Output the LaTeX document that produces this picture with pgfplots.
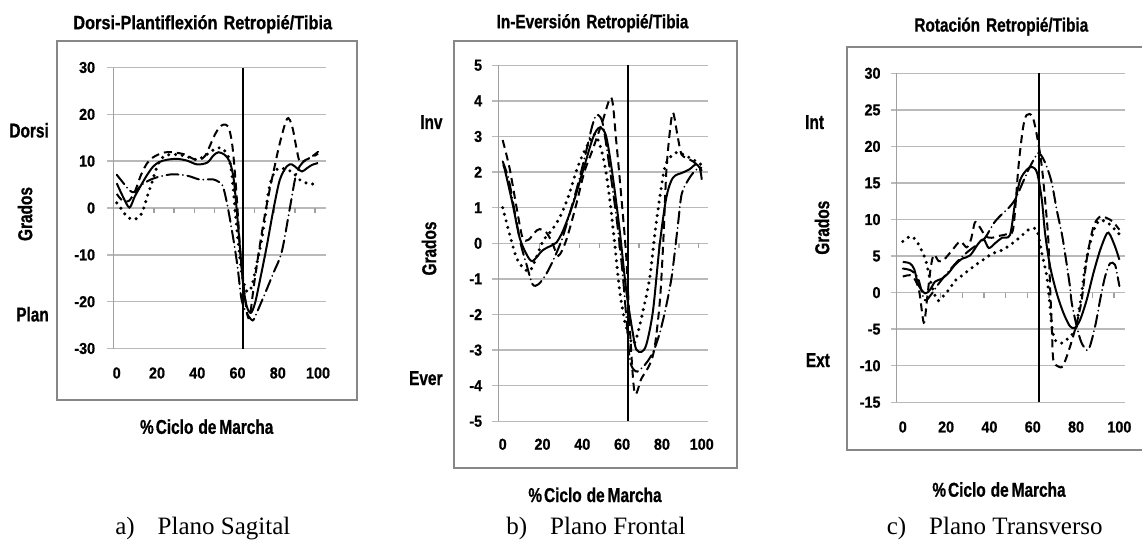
\documentclass[border=0pt]{standalone}
\usepackage{pgfplots}
\pgfplotsset{compat=1.18}
\usepackage{fontspec}
\setmainfont{Liberation Serif}
\newfontfamily\titlefontA{Liberation Sans}[FakeStretch=0.85,FakeBold=0.8]
\newfontfamily\titlefontB{Liberation Sans}[FakeStretch=0.80,FakeBold=0.8]
\newfontfamily\labfont{Liberation Sans}[FakeStretch=0.77,FakeBold=0.8]
\newfontfamily\tickfontfam{Liberation Sans}[FakeStretch=0.91,FakeBold=0.8]
\newcommand{\tickfont}{\tickfontfam\bfseries\fontsize{15.8}{16}\selectfont}
\newcommand{\labf}{\labfont\bfseries\fontsize{20}{20}\selectfont}
\newcommand{\capf}{\rmfamily\fontsize{25}{25}\selectfont}
\definecolor{gridgray}{RGB}{185,185,185}
\definecolor{axgray}{RGB}{160,160,160}
\definecolor{boxgray}{RGB}{135,135,135}
\pgfplotsset{
  panel/.style={
    scale only axis,
    axis lines*=left,
    x axis line style={draw=none},
    y axis line style={draw=axgray, line width=1.5pt},
    ymajorgrids,
    grid style={draw=gridgray, line width=1.4pt},
    xtick={0,20,40,60,80,100},
    xticklabels={0,20,40,60,80,100},
    xtick style={draw=none},
    ytick style={draw=gridgray, line width=1.4pt},
    tick align=outside,
    major tick length=6pt,
    xticklabel style={font=\tickfont, anchor=center, inner sep=0pt},
    yticklabel style={font=\tickfont, anchor=east, inner sep=0pt},
    clip=false,
  },
  sol/.style={black, line width=2pt, smooth, tension=0.5},
  dsh/.style={black, line width=2pt, smooth, tension=0.5, dash pattern=on 8pt off 5pt},
  dot/.style={black, line width=3.4pt, smooth, tension=0.5, line cap=round, dash pattern=on 0pt off 6.8pt},
  dd/.style={black, line width=2pt, smooth, tension=0.5, line cap=round, dash pattern=on 12pt off 4.5pt on 0pt off 4.5pt},
  vline/.style={black, line width=2pt},
}
\begin{document}
\begin{tikzpicture}
\path[use as bounding box] (0pt,0pt) rectangle (1142pt,539pt);
% boxes
\draw[boxgray, line width=2pt] (57.3pt,497.7pt) rectangle (357.3pt,139.5pt);
\draw[boxgray, line width=2pt] (454pt,497.7pt) rectangle (737.3pt,71.5pt);
\draw[boxgray, line width=2pt] (847.3pt,491.9pt) rectangle (1150pt,88.7pt);
% titles
\node[anchor=base, inner sep=0pt, font=\titlefontA\bfseries\fontsize{19.2}{19.2}\selectfont] at (202.7pt,509.8pt) {Dorsi-Plantiflexión\hspace{6pt}Retropié/Tibia};
\node[anchor=base, inner sep=0pt, font=\titlefontB\bfseries\fontsize{19.2}{19.2}\selectfont] at (592.5pt,510.8pt) {In-Eversión\hspace{6pt}Retropié/Tibia};
\node[anchor=base, inner sep=0pt, font=\titlefontB\bfseries\fontsize{19.2}{19.2}\selectfont] at (1001.3pt,507.4pt) {Rotación\hspace{6pt}Retropié/Tibia};
% side labels
\node[anchor=base east, inner sep=0pt, font=\labf] at (49pt,401.5pt) {Dorsi};
\node[anchor=base east, inner sep=0pt, font=\labf] at (49pt,217.6pt) {Plan};
\node[anchor=center, inner sep=0pt, rotate=90, font=\labf] at (25pt,325pt) {Grados};
\node[anchor=base east, inner sep=0pt, font=\labf] at (442.7pt,410pt) {Inv};
\node[anchor=base east, inner sep=0pt, font=\labf] at (442.7pt,154pt) {Ever};
\node[anchor=center, inner sep=0pt, rotate=90, font=\labf] at (429pt,290.5pt) {Grados};
\node[anchor=base west, inner sep=0pt, font=\labf] at (805pt,410pt) {Int};
\node[anchor=base west, inner sep=0pt, font=\labf] at (805.7pt,172pt) {Ext};
\node[anchor=center, inner sep=0pt, rotate=90, font=\labf] at (822pt,311.3pt) {Grados};
% x labels
\node[anchor=base, inner sep=0pt, font=\labf] at (206.7pt,105.2pt) {\%\hspace{2pt}Ciclo\hspace{5pt}de\hspace{3pt}Marcha};
\node[anchor=base, inner sep=0pt, font=\labf] at (595pt,37pt) {\%\hspace{2pt}Ciclo\hspace{5pt}de\hspace{3pt}Marcha};
\node[anchor=base, inner sep=0pt, font=\labf] at (999pt,42.3pt) {\%\hspace{2pt}Ciclo\hspace{5pt}de\hspace{3pt}Marcha};
% captions
\node[anchor=base, inner sep=0pt, font=\capf] at (202.8pt,5pt) {a)\hspace{23pt}Plano Sagital};
\node[anchor=base, inner sep=0pt, font=\capf] at (596pt,5pt) {b)\hspace{23pt}Plano Frontal};
\node[anchor=base, inner sep=0pt, font=\capf] at (994.7pt,5pt) {c)\hspace{23pt}Plano Transverso};

% ---------------- Panel a ----------------
\begin{axis}[panel, at={(113.3pt,190.5pt)}, anchor=south west,
  width=212.4pt, height=281pt,
  xmin=-1.7, xmax=103.8, ymin=-30, ymax=30,
  ytick={-30,-20,-10,0,10,20,30},
  yticklabels={-30,-20,-10,0,10,20,30},
  xticklabel style={yshift=-18.5pt},
  yticklabel style={xshift=-12pt},
]
\pgfplotsinvokeforeach{18.5,28.5,38.5,48.5,58.5,68.5,78.5,88.5,98.5}{\draw[axgray, line width=1.3pt] (axis cs:#1,0) -- ([yshift=-5pt]axis cs:#1,0);}
\addplot[vline] coordinates {(62.9,-30) (62.9,30)};
% solid
\addplot[sol] coordinates {
(0,5.3) (3,2.5) (6.3,0.1) (9,2.5) (12,4.8) (15,7) (18,8.8) (21,9.8) (25,10.3) (30,10.5) (35,10.1) (40,9.3) (45,9.7) (48,11.2) (50.5,11.9) (53.5,11.4) (56,10) (58,6.5) (59.6,-0.4) (61.3,-8.9) (62.9,-16.8) (64.6,-21) (66.6,-22.4) (68.7,-20.3) (71.2,-15.3) (74.5,-8.2) (77.8,-0.4) (81,6) (84.5,8.9) (87,9.3) (89.5,8.5) (92,7.8) (94.5,8.5) (97,9.2) (100,9.6)};
% dashed
\addplot[dsh] coordinates {
(0,3) (3,1.5) (6,1.5) (9,3.5) (12,7) (15,9.5) (18,10.8) (23,11.8) (28,11.9) (34,11.4) (38,10.5) (41.4,10.3) (44,11.2) (46,13) (48.8,15.7) (51,17.2) (53,17.8) (55.4,17.4) (57,14.6) (58,11) (59.5,3) (61.3,-8.9) (62.9,-16) (64.2,-21) (65.4,-23.5) (66.5,-22) (68,-17) (70,-11) (72,-5.5) (74,-0.5) (76,4) (78,8) (80,12) (82,15.5) (84,18.5) (85.2,19.2) (86.5,18.3) (87.7,16.4) (89.4,12.5) (91,9.8) (94,10.3) (97.7,11) (100,11.6)};
% dotted
\addplot[dot] coordinates {
(0,1.1) (2.5,-0.3) (5,-1.8) (8.3,-2.5) (11,-1.9) (12.4,-1.2) (14,0.8) (15.7,3.2) (17.4,5.3) (19.5,8.2) (22,10.5) (25,11.3) (29.8,11.4) (34.8,11) (39.7,10.3) (44.7,11.4) (48.8,12.6) (52.2,12.8) (55.4,11) (57.1,7.5) (58.8,-0.4) (60.4,-7.5) (62.1,-13.9) (64.6,-17.8) (67,-16.8) (69.6,-11.8) (72,-6.8) (73.7,-1.8) (75.3,3.2) (77,6.4) (78.7,7.8) (80.5,8.5) (84,8.3) (87.7,7.5) (91,6) (94.4,5.3) (100,5)};
% dash-dot
\addplot[dd] coordinates {
(0,7.1) (3,5.5) (6.5,3.7) (9,3.4) (12,4.8) (16.5,6) (22,6.8) (28,7.2) (35,6.9) (41,6.1) (45,6.1) (48,6.1) (51,5.5) (53,4.3) (55.4,-0.4) (58,-6.8) (60,-12.5) (62,-19.5) (64.5,-22.4) (67.5,-24) (69.5,-22.4) (73.7,-18.2) (77.8,-13.9) (82,-9.3) (86,0) (88.7,6.4) (91,9) (94,10.3) (97,11) (100,12)};
\end{axis}

% ---------------- Panel b ----------------
\begin{axis}[panel, at={(498.3pt,117.7pt)}, anchor=south west,
  width=210pt, height=356pt,
  xmin=-2.2, xmax=103.3, ymin=-5, ymax=5,
  ytick={-5,-4,-3,-2,-1,0,1,2,3,4,5},
  yticklabels={-5,-4,-3,-2,-1,0,1,2,3,4,5},
  xticklabel style={yshift=-17pt},
  yticklabel style={xshift=-10pt},
]
\pgfplotsinvokeforeach{18.5,28.5,38.5,48.5,58.5,68.5,78.5,88.5,98.5}{\draw[axgray, line width=1.3pt] (axis cs:#1,0) -- ([yshift=-5pt]axis cs:#1,0);}
\addplot[vline] coordinates {(63.1,-5) (63.1,5)};
% solid
\addplot[sol] coordinates {
(0,2.2) (1,2.08) (5,1.1) (8.5,0.16) (12,-0.31) (15,-0.5) (20,-0.2) (25,-0.05) (27,0.02) (30.3,0.35) (35.3,1.1) (40.3,2.03) (45.4,2.97) (48.7,3.25) (52,3.0) (55.4,1.84) (58.8,0.35) (62.1,-1.34) (65.5,-2.56) (67.1,-2.98) (69.7,-3.05) (72.2,-2.84) (75.5,-1.9) (78.9,-0.03) (82.2,1.28) (85.5,1.84) (90.6,1.99) (93.9,2.08) (97.3,2.22) (100,2.03)};
% dashed
\addplot[dsh] coordinates {
(0,2.9) (3.5,2.1) (7,1.0) (10,0.15) (13,0.1) (16,0.3) (18.6,0.4) (22,0.3) (25,0.0) (28,-0.35) (32,0.1) (37,1.1) (41,2.0) (45,2.6) (50,3.4) (54.6,4.09) (57,2.9) (59.6,1.3) (62.1,-0.4) (64,-2.5) (66.3,-4.2) (69.7,-3.8) (73.9,-3.4) (76.4,-2.9) (79,-1.6) (80.7,0.07) (82.2,2.0) (84,3.15) (85.6,3.67) (88,2.97) (89.8,2.5) (92.3,2.4) (95.6,2.3) (100,2.1)};
% dotted
\addplot[dot] coordinates {
(0,1.0) (3.5,0.25) (6.9,-0.4) (10.2,-0.68) (13.6,-0.78) (16.9,-0.4) (20.3,0.07) (24.4,0.35) (28.6,0.72) (32.8,1.28) (37,2.03) (40.3,2.5) (43.7,2.87) (46.2,3.06) (48.7,2.78) (51.2,2.22) (53.7,1.28) (56.3,-0.03) (58.8,-1.34) (61.3,-2.18) (63.5,-2.6) (65.5,-2.84) (67.5,-2.6) (70.5,-1.9) (73.9,-0.96) (76.4,0.25) (78.9,1.28) (81.4,2.13) (83.9,2.4) (87.3,2.55) (90.6,2.5) (94,2.4) (97.3,2.3) (100,2.2)};
% dash-dot
\addplot[dd] coordinates {
(0,2.3) (3,1.8) (6,0.9) (9,0.0) (12,-0.6) (15,-1.15) (18,-1.15) (22,-0.85) (26,-0.4) (30,0.15) (34,0.9) (38,1.7) (42,2.6) (45,3.3) (47,3.6) (49,3.55) (50.5,3.3) (53,2.4) (57,0.8) (60,-0.7) (62,-2.0) (64,-3.3) (67,-3.6) (70,-3.5) (73,-3.3) (76,-3.0) (79,-2.5) (82,-1.8) (85,-0.9) (88,0.5) (90,1.4) (94,1.85) (97,2.05) (99,2.1) (100,1.8)};
\end{axis}

% ---------------- Panel c ----------------
\begin{axis}[panel, at={(896.7pt,136.7pt)}, anchor=south west,
  width=228.3pt, height=329pt,
  xmin=-2.8, xmax=102.6, ymin=-15, ymax=30,
  ytick={-15,-10,-5,0,5,10,15,20,25,30},
  yticklabels={-15,-10,-5,0,5,10,15,20,25,30},
  xticklabel style={yshift=-18.7pt},
  yticklabel style={xshift=-10pt},
]
\pgfplotsinvokeforeach{17.5,27.5,37.5,47.5,57.5,67.5,77.5,87.5,97.5}{\draw[axgray, line width=1.3pt] (axis cs:#1,0) -- ([yshift=-5pt]axis cs:#1,0);}
\addplot[vline] coordinates {(62.9,-15) (62.9,30)};
% solid
\addplot[sol] coordinates {
(0,4.2) (3.3,4.0) (5.3,3.2) (7.2,1.05) (10.3,-0.1) (12.6,0.4) (14.9,1.5) (18,1.9) (21,2.65) (24.1,3.8) (27.2,4.6) (31.1,5.1) (35.1,6.8) (37.4,7.3) (39.7,6.1) (42.8,6.8) (45.8,7.5) (49.5,7.9) (51.8,12.2) (54.2,15.4) (57.2,16.8) (59.6,17.2) (62,16.4) (64.2,12.7) (65.7,8.1) (68,3.6) (71.1,-0.1) (74.2,-2.8) (77.2,-4.6) (79.5,-4.8) (81.9,-3.7) (84.9,-1) (88,2.65) (91.1,5.8) (94.2,8.1) (95.7,7.9) (98,6.3) (100,4.5)};
% dashed
\addplot[dsh] coordinates {
(0,2.2) (4.3,2.3) (7.4,0.45) (9.7,-4.1) (11.2,-0.9) (12.8,3.2) (14.3,5.2) (16.6,4.3) (19,4.5) (22.8,5.8) (26.5,7) (29.5,6.2) (31.5,7.3) (33.3,9.6) (35,9.2) (36.5,8.5) (38.2,7.7) (41,7.5) (45,7.8) (48,8) (51,8.8) (53.4,17.2) (55.5,22.5) (57.2,24.3) (60,24) (62.6,20.4) (64.2,17.2) (65.7,12.7) (67.2,7.2) (68,0.9) (68.8,-4.6) (69.5,-9.2) (71.8,-10.1) (74,-10) (77.2,-7.4) (80,-4.5) (82.6,-1) (84.9,4.5) (88,9) (91.1,10.4) (94.2,10.2) (97,9.7) (100,8.6)};
% dotted
\addplot[dot] coordinates {
(0,7.0) (3.8,7.7) (6.9,6.8) (10.3,4.7) (11.5,3.3) (13.5,0.8) (16.2,-1.1) (19.2,-0.3) (21.8,0.6) (24,1.6) (27.2,2.3) (30.6,3.1) (34.2,3.9) (37.7,4.6) (41.1,5.3) (45.7,5.8) (49.5,6.5) (54.2,7.6) (58,8.6) (61.1,8.8) (62.5,8) (64.2,5.4) (66.5,2.2) (68,-1.9) (68.8,-4.6) (70.3,-6.5) (73.4,-6.9) (77.2,-6) (79.5,-5.1) (81.1,-2.8) (82.6,-0.1) (84.2,3.6) (86.5,6.8) (88.8,9) (91.1,9.9) (94.2,9.6) (96.5,9.1) (98.8,8.3) (100,8)};
% dash-dot
\addplot[dd] coordinates {
(0,3.3) (4,3.0) (7,2.0) (10,-1.0) (13,-0.3) (16,1.0) (20,2.5) (25,4.2) (30,5.6) (34,6.5) (38,7.5) (42,9.5) (45,10.5) (48.9,11.6) (52,12.8) (55,14.8) (58,16.8) (60.5,18.2) (62.6,19.1) (64.5,18.5) (66.5,17.2) (68.8,15) (71.1,11.3) (73.4,8.1) (74.9,5.4) (77.2,0.8) (78,-1.4) (80.3,-4.6) (82.6,-6.9) (85.7,-7.8) (88.8,-4.6) (91.1,-1) (93.4,2.2) (95.7,4) (98,3.8) (99.5,1.7) (100,0.9)};
\end{axis}
\end{tikzpicture}
\end{document}
